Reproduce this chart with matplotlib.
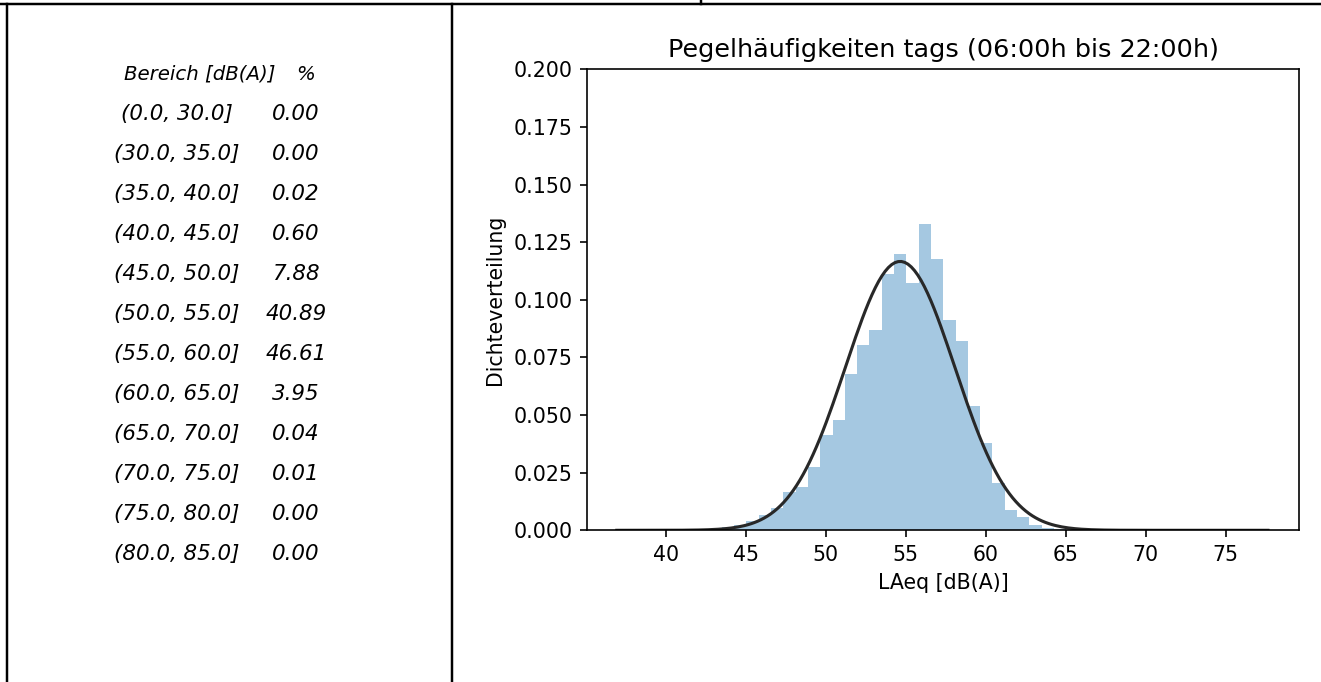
import numpy as np
import matplotlib
matplotlib.use("Agg")
import matplotlib.pyplot as plt
from matplotlib.lines import Line2D

# Tabelle links: Pegelbereiche und Anteile in %
bereiche = ["(0.0, 30.0]", "(30.0, 35.0]", "(35.0, 40.0]", "(40.0, 45.0]",
            "(45.0, 50.0]", "(50.0, 55.0]", "(55.0, 60.0]", "(60.0, 65.0]",
            "(65.0, 70.0]", "(70.0, 75.0]", "(75.0, 80.0]", "(80.0, 85.0]"]
prozent = ["0.00", "0.00", "0.02", "0.60", "7.88", "40.89", "46.61",
           "3.95", "0.04", "0.01", "0.00", "0.00"]

# Histogramm (Dichte), 50 Klassen
laeq_min = 38.12
laeq_max = 76.57
dichte = [0.00003, 0.00003, 0.00005, 0.00005, 0.0001, 0.0003, 0.0006, 0.0013,
          0.0021, 0.0040, 0.0066, 0.0098, 0.0166, 0.0187, 0.0276, 0.0412,
          0.0479, 0.0678, 0.0804, 0.0869, 0.1112, 0.1199, 0.1072, 0.1329,
          0.1177, 0.0913, 0.0821, 0.0539, 0.0380, 0.0207, 0.0089, 0.0057,
          0.0023, 0.0011, 0.0005, 0.0002, 0.0001, 0.0001, 0.00005, 0.00005,
          0.00003, 0.00003, 0.00002, 0.00002, 0.00001, 0.00001, 0.00001,
          0.00001, 0.00001, 0.00001]

# Normalverteilungs-Fit
mu = 54.65
sigma = 3.42
fit_von = 36.94
fit_bis = 77.64

fig = plt.figure(figsize=(1322 / 148, 682 / 148), dpi=148)

# Rahmenlinien
lw = 1.2
fig.add_artist(Line2D([0, 1], [1 - 4 / 682, 1 - 4 / 682], transform=fig.transFigure, color="black", lw=lw))
fig.add_artist(Line2D([7 / 1322, 7 / 1322], [0, 1 - 4 / 682], transform=fig.transFigure, color="black", lw=lw))
fig.add_artist(Line2D([452 / 1322, 452 / 1322], [0, 1 - 4 / 682], transform=fig.transFigure, color="black", lw=lw))
fig.add_artist(Line2D([701 / 1322, 701 / 1322], [1 - 4 / 682, 1], transform=fig.transFigure, color="black", lw=lw))

# Tabelle
tfont = dict(family="DejaVu Sans", style="oblique", color="black")
fig.text(200 / 1322, 1 - 74 / 682, "Bereich [dB(A)]", ha="center", va="center", fontsize=9.6, **tfont)
fig.text(306 / 1322, 1 - 74 / 682, "%", ha="center", va="center", fontsize=9.6, **tfont)
for i, (b, p) in enumerate(zip(bereiche, prozent)):
    y = 1 - (114 + 40 * i) / 682
    fig.text(177 / 1322, y, b, ha="center", va="center", fontsize=10.4, **tfont)
    fig.text(296 / 1322, y, p, ha="center", va="center", fontsize=10.4, **tfont)

# Diagramm
ax = fig.add_axes([586.7 / 1322, 1 - 530.3 / 682, (1299.3 - 586.7) / 1322, (530.3 - 69.3) / 682])
kanten = np.linspace(laeq_min, laeq_max, len(dichte) + 1)
mitten = (kanten[:-1] + kanten[1:]) / 2
ax.hist(mitten, bins=kanten, weights=dichte, color="#1f77b4", alpha=0.4)

x = np.linspace(fit_von, fit_bis, 200)
pdf = np.exp(-0.5 * ((x - mu) / sigma) ** 2) / (sigma * np.sqrt(2 * np.pi))
ax.plot(x, pdf, color="#282828", lw=1.5)

ax.set_xlim(35.06, 79.6)
ax.set_ylim(0, 0.2)
ax.set_title("Pegelhäufigkeiten tags (06:00h bis 22:00h)", fontsize=12.4)
ax.set_xlabel("LAeq [dB(A)]")
ax.set_ylabel("Dichteverteilung")

fig.savefig("out.png", dpi=148)
